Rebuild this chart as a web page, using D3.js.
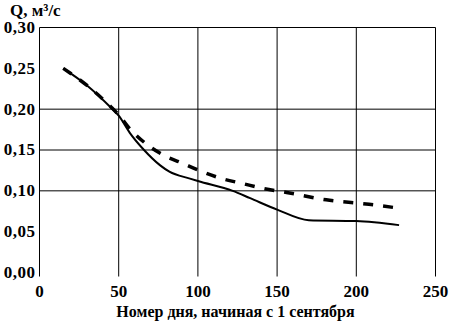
<!DOCTYPE html>
<html>
<head>
<meta charset="utf-8">
<script src="https://cdn.jsdelivr.net/npm/d3@7"></script>
<style>
  html, body { margin: 0; padding: 0; background: #fff; }
  svg { display: block; font-family: "Liberation Serif", "Times New Roman", serif; font-weight: bold; }
</style>
</head>
<body>
<div id="chart"></div>
<script>
// --- data (day from 1 Sept, Q in m3/s) ---
var solidDays = [15, 30, 45, 50, 57, 66, 76, 82, 95, 100, 122, 133, 150, 170, 200, 227];
var solidQ    = [0.250, 0.229, 0.202, 0.192, 0.171, 0.150, 0.1315, 0.1235, 0.115, 0.112, 0.100, 0.091, 0.077, 0.064, 0.063, 0.058];
var dashDays  = [15, 30, 45, 50, 57, 67, 78, 90, 102, 115, 128, 141, 156, 181, 208, 226];
var dashQ     = [0.250, 0.229, 0.203, 0.193, 0.176, 0.158, 0.144, 0.134, 0.124, 0.115, 0.109, 0.103, 0.098, 0.089, 0.0835, 0.079];
var xTicks = [0, 50, 100, 150, 200, 250];
var yTicks = [0, 0.05, 0.10, 0.15, 0.20, 0.25, 0.30];
var yGrid  = [0.10, 0.15, 0.20, 0.30];
var yTitle = "Q, м³/с";
var xTitle = "Номер дня, начиная с 1 сентября";

(function () {
  var W = 451, H = 327;
  var m = { top: 27.5, right: 15.5, bottom: 54.5, left: 39.5 };
  var iw = W - m.left - m.right, ih = H - m.top - m.bottom;

  var svg = d3.select("#chart").append("svg").attr("width", W).attr("height", H);
  var g = svg.append("g").attr("transform", "translate(" + m.left + "," + m.top + ")");

  var x = d3.scaleLinear().domain([0, 250]).range([0, iw]);
  var y = d3.scaleLinear().domain([0, 0.30]).range([ih, 0]);
  var fmt = function (d) { return d3.format(".2f")(d).replace(".", ","); };

  // grid: vertical at every x tick, horizontal only where the original has them
  g.append("g").selectAll("line").data(xTicks).enter().append("line")
    .attr("x1", function (d) { return x(d); }).attr("x2", function (d) { return x(d); })
    .attr("y1", 0).attr("y2", ih + 4)
    .attr("stroke", "#000").attr("stroke-width", 1);
  g.append("g").selectAll("line").data(yGrid).enter().append("line")
    .attr("x1", 0).attr("x2", iw)
    .attr("y1", function (d) { return y(d); }).attr("y2", function (d) { return y(d); })
    .attr("stroke", "#000").attr("stroke-width", 1);

  // tick labels
  g.append("g").selectAll("text").data(yTicks).enter().append("text")
    .attr("x", -4).attr("y", function (d) { return y(d); }).attr("dy", "0.32em")
    .attr("text-anchor", "end").attr("font-size", 17).attr("letter-spacing", 0.5).text(fmt);
  g.append("g").selectAll("text").data(xTicks).enter().append("text")
    .attr("x", function (d) { return x(d); }).attr("y", ih + 24)
    .attr("text-anchor", "middle").attr("font-size", 17).text(function (d) { return d; });

  // titles
  svg.append("text").attr("x", 10).attr("y", 16).attr("font-size", 17).text(yTitle);
  svg.append("text").attr("x", m.left + iw / 2 - 2).attr("y", 317)
    .attr("text-anchor", "middle").attr("font-size", 16).text(xTitle);

  // curves
  var line = d3.line().curve(d3.curveMonotoneX)
    .x(function (d) { return x(d[0]); }).y(function (d) { return y(d[1]); });
  g.append("path").datum(d3.zip(dashDays, dashQ)).attr("d", line)
    .attr("fill", "none").attr("stroke", "#000").attr("stroke-width", 3.5)
    .attr("stroke-dasharray", "10,10");
  g.append("path").datum(d3.zip(solidDays, solidQ)).attr("d", line)
    .attr("fill", "none").attr("stroke", "#000").attr("stroke-width", 2);
})();
</script>
</body>
</html>
